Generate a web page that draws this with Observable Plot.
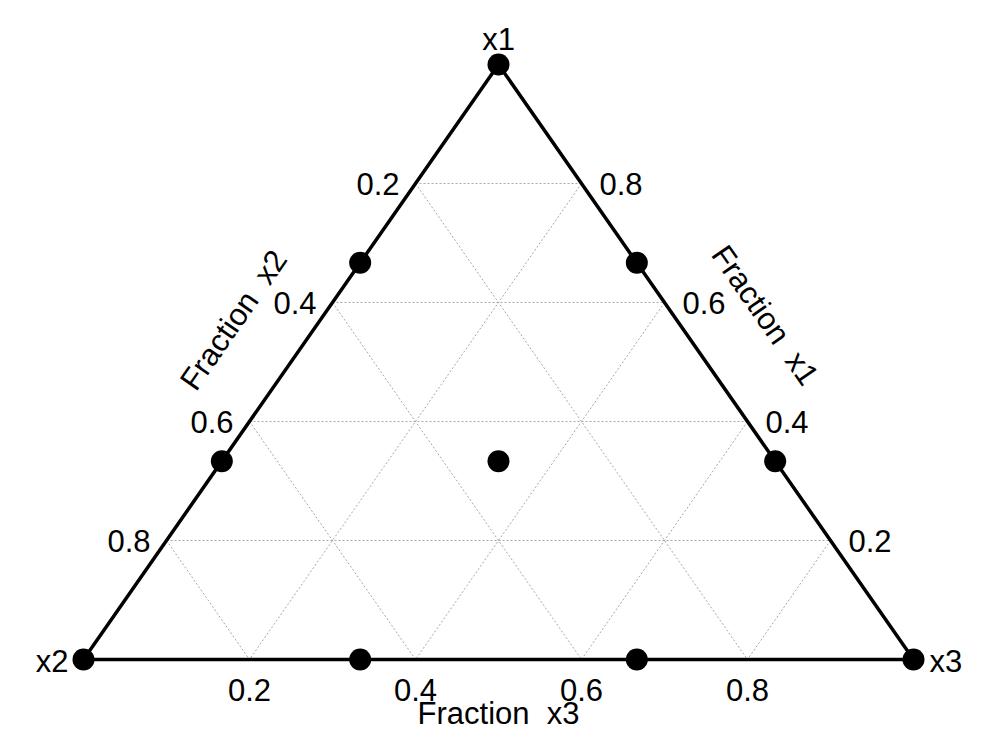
<!DOCTYPE html>
<html>
<head>
<meta charset="utf-8">
<script src="https://cdn.jsdelivr.net/npm/d3@7"></script>
<script src="https://cdn.jsdelivr.net/npm/@observablehq/plot@0.6"></script>
<style>
  html, body { margin: 0; padding: 0; background: #fff; }
  svg text { font-family: "Liberation Sans", Arial, sans-serif; }
</style>
</head>
<body>
<div id="chart"></div>
<script>
// Design points (mixture fractions)
const ptX1 = [1, 0, 0, 2/3, 2/3, 1/3, 0, 1/3, 0, 1/3];
const ptX2 = [0, 1, 0, 1/3, 0, 2/3, 2/3, 0, 1/3, 1/3];
const ptX3 = [0, 0, 1, 0, 1/3, 0, 1/3, 2/3, 2/3, 1/3];

const gridTicks = [0.2, 0.4, 0.6, 0.8];
const tickLabels = ["0.2", "0.4", "0.6", "0.8"];
const vertexNames = ["x1", "x2", "x3"];
const axisTitles = ["Fraction\u00A0\u00A0x1", "Fraction\u00A0\u00A0x2", "Fraction\u00A0\u00A0x3"];

// ternary -> cartesian (x along base, y = x1 height)
const tx = (a, b, c) => c + a / 2;
const ty = (a, b, c) => a;

const points = ptX1.map((a, i) => ({x: tx(a, ptX2[i], ptX3[i]), y: ty(a, ptX2[i], ptX3[i])}));

const vertices = [
  {n: vertexNames[0], x: tx(1,0,0), y: ty(1,0,0)},
  {n: vertexNames[1], x: tx(0,1,0), y: ty(0,1,0)},
  {n: vertexNames[2], x: tx(0,0,1), y: ty(0,0,1)}
];
const border = [vertices[0], vertices[1], vertices[2], vertices[0]];

const grid = [];
for (const t of gridTicks) {
  grid.push({ax: tx(t, 1 - t, 0), ay: ty(t, 1 - t, 0), bx: tx(t, 0, 1 - t), by: ty(t, 0, 1 - t)});
  grid.push({ax: tx(1 - t, t, 0), ay: ty(1 - t, t, 0), bx: tx(0, t, 1 - t), by: ty(0, t, 1 - t)});
  grid.push({ax: tx(1 - t, 0, t), ay: ty(1 - t, 0, t), bx: tx(0, 1 - t, t), by: ty(0, 1 - t, t)});
}

const bottomLabels = gridTicks.map((t, i) => ({x: tx(0, 1 - t, t), y: ty(0, 1 - t, t), s: tickLabels[i]}));
const leftLabels = gridTicks.map((t, i) => ({x: tx(1 - t, t, 0), y: ty(1 - t, t, 0), s: tickLabels[i]}));
const rightLabels = gridTicks.map((t, i) => ({x: tx(t, 0, 1 - t), y: ty(t, 0, 1 - t), s: tickLabels[i]}));

const ang = Math.atan((659 - 64) / (497 - 83)) * 180 / Math.PI;
const fs = 31;

const chart = Plot.plot({
  width: 998,
  height: 729,
  marginLeft: 83,
  marginRight: 85,
  marginTop: 64,
  marginBottom: 70,
  x: {domain: [0, 1], axis: null},
  y: {domain: [0, 1], axis: null},
  marks: [
    Plot.link(grid, {x1: "ax", y1: "ay", x2: "bx", y2: "by", stroke: "#a8a8a8", strokeWidth: 1, strokeDasharray: "2,2"}),
    Plot.line(border, {x: "x", y: "y", stroke: "#000", strokeWidth: 3.5}),
    Plot.dot(points, {x: "x", y: "y", r: 11, fill: "#000", stroke: null}),
    Plot.text(bottomLabels, {x: "x", y: "y", text: "s", dy: 32, fontSize: fs, fill: "#000"}),
    Plot.text(leftLabels, {x: "x", y: "y", text: "s", dx: -16, dy: 2, textAnchor: "end", fontSize: fs, fill: "#000"}),
    Plot.text(rightLabels, {x: "x", y: "y", text: "s", dx: 18, dy: 2, textAnchor: "start", fontSize: fs, fill: "#000"}),
    Plot.text([vertices[0]], {x: "x", y: "y", text: "n", dy: -24, fontSize: fs, fill: "#000"}),
    Plot.text([vertices[1]], {x: "x", y: "y", text: "n", dx: -15, dy: 3, textAnchor: "end", fontSize: fs, fill: "#000"}),
    Plot.text([vertices[2]], {x: "x", y: "y", text: "n", dx: 16, dy: 3, textAnchor: "start", fontSize: fs, fill: "#000"}),
    Plot.text([{x: tx(0, 0.5, 0.5), y: 0}], {x: "x", y: "y", text: () => axisTitles[2], dy: 55, fontSize: fs, fill: "#000"}),
    Plot.text([{x: tx(0.57, 0.43, 0), y: ty(0.57, 0.43, 0)}], {x: "x", y: "y", text: () => axisTitles[1], dx: -86, rotate: -ang, fontSize: fs, fill: "#000"}),
    Plot.text([{x: tx(0.578, 0, 0.422), y: ty(0.578, 0, 0.422)}], {x: "x", y: "y", text: () => axisTitles[0], dx: 91, rotate: ang, fontSize: fs, fill: "#000"})
  ]
});
document.getElementById("chart").appendChild(chart);
</script>
</body>
</html>
